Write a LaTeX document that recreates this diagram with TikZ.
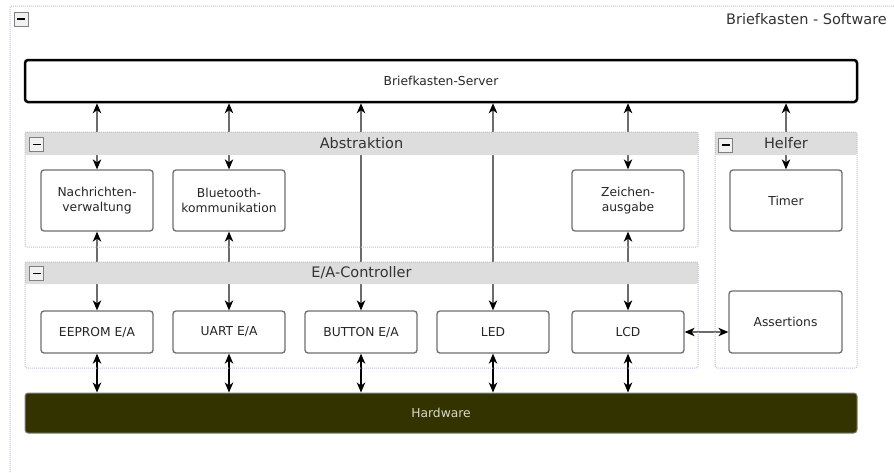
\documentclass[tikz,border=0pt]{standalone}
\usepackage{fontspec}
\setmainfont{DejaVu Sans}
\usetikzlibrary{arrows.meta}
\definecolor{rahmen}{RGB}{190,190,222}
\definecolor{kopf}{RGB}{221,221,221}
\definecolor{hwfarbe}{RGB}{51,51,0}
\definecolor{rand}{RGB}{110,110,110}
\definecolor{hwtext}{RGB}{215,215,200}
\tikzset{
  box/.style={draw=rand,line width=1.3pt,rounded corners=3pt,fill=white,minimum width=112pt,align=center,inner sep=1pt,font=\fontsize{12.3}{15}\selectfont,text=black!85},
  hoch/.style={box,minimum height=61pt},
  flach/.style={box,minimum height=42pt},
  gruppe/.style={draw=rahmen,densely dotted,line width=1pt,rounded corners=2pt},
  titel/.style={inner sep=0pt,font=\fontsize{14.5}{17}\selectfont,text=black!80},
  knopf/.style={draw=gray,fill=kopf!40,line width=0.8pt,minimum size=14pt,inner sep=0pt,
    path picture={\draw[line width=1.6pt,black] ([xshift=-4pt]path picture bounding box.center) -- ([xshift=4pt]path picture bounding box.center);}},
  pfeil/.style={<->,draw=gray!85!black,line width=1.2pt},
  hwpfeil/.style={<->,draw=black,line width=1.3pt},
  >={Stealth[black,length=10pt,width=8.5pt,inset=3pt]}
}
\begin{document}
\begin{tikzpicture}[x=1pt,y=-1pt]
\useasboundingbox (0,0) rectangle (894,472);

%Rahmen und Titel
\draw[gruppe] (10,480) -- (10,6) -- (900,6);
\node[knopf] (knopf0) at (21,19) {};
\node[titel,anchor=east] (titel) at (887,19) {Briefkasten - Software};

%Server und Hardware
\node[box,draw=black,line width=2.5pt,minimum width=832pt,minimum height=42pt] (server) at (441,81) {Briefkasten-Server};
\node[box,draw=gray,line width=1pt,fill=hwfarbe,text=hwtext,minimum width=832pt,minimum height=40pt] (hw) at (441,413) {Hardware};

%Abstraktion
\node[hoch] (nv) at (97,200.5) {Nachrichten-\\verwaltung};
\node[hoch] (bt) at (229,200.5) {Bluetooth-\\kommunikation};
\node[hoch] (za) at (628,200.5) {Zeichen-\\ausgabe};

%E/A-Controller
\node[flach] (eeprom) at (97,332) {EEPROM E/A};
\node[flach] (uart) at (229,332) {UART E/A};
\node[flach] (btn) at (361,332) {BUTTON E/A};
\node[flach] (led) at (493,332) {LED};
\node[flach] (lcd) at (628,332) {LCD};

%Helfer
\node[hoch] (timer) at (786,200.5) {Timer};
\node[box,minimum width=113pt,minimum height=62pt] (as) at (785.5,322) {Assertions};

%Verbindungen zum Server
\draw[pfeil] (server.south -| nv.north) -- (nv.north);
\draw[pfeil] (server.south -| bt.north) -- (bt.north);
\draw[pfeil] (server.south -| btn.north) -- (btn.north);
\draw[pfeil] (server.south -| led.north) -- (led.north);
\draw[pfeil] (server.south -| za.north) -- (za.north);
\draw[pfeil] (server.south -| timer.north) -- (timer.north);
%Abstraktion zu E/A
\draw[pfeil] (nv.south) -- (eeprom.north);
\draw[pfeil] (bt.south) -- (uart.north);
\draw[pfeil] (za.south) -- (lcd.north);
\draw[pfeil] (lcd.east) -- (lcd.east -| as.west);
%E/A zur Hardware
\draw[hwpfeil] (eeprom.south) -- (eeprom.south |- hw.north);
\draw[hwpfeil] (uart.south) -- (uart.south |- hw.north);
\draw[hwpfeil] (btn.south) -- (btn.south |- hw.north);
\draw[hwpfeil] (led.south) -- (led.south |- hw.north);
\draw[hwpfeil] (lcd.south) -- (lcd.south |- hw.north);

%Kopfzeilen der Gruppen (ueber den Linien)
\fill[kopf,rounded corners=2pt] (25,132) rectangle (698,155);
\fill[kopf,rounded corners=2pt] (25,262) rectangle (698,284);
\fill[kopf,rounded corners=2pt] (715,132) rectangle (857,155);
\draw[gruppe] (25,132) rectangle (698,247);
\draw[gruppe] (25,262) rectangle (698,368);
\draw[gruppe] (715,132) rectangle (857,368);
\node[titel] (abstitel) at (361.5,143.5) {Abstraktion};
\node[titel] (eatitel) at (361.5,273) {E/A-Controller};
\node[titel] (helftitel) at (786,143.5) {Helfer};
\node[knopf] (knopf1) at (36.5,144.5) {};
\node[knopf] (knopf2) at (36.5,273.5) {};
\node[knopf] (knopf3) at (725.5,145) {};
\end{tikzpicture}
\end{document}
